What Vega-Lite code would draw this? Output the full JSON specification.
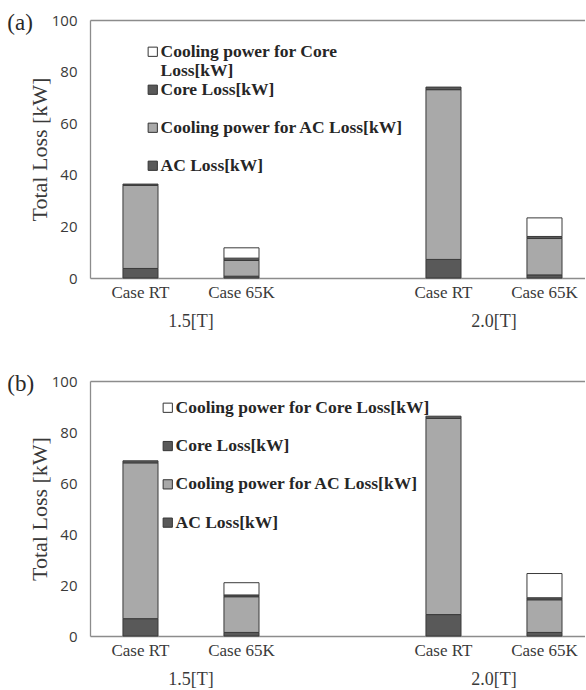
{
  "$schema": "https://vega.github.io/schema/vega-lite/v6.json",
  "background": "white",
  "padding": {"left": 7, "top": 12, "right": 0, "bottom": 0},
  "bounds": "flush",
  "spacing": 103,
  "resolve": {"scale": {"color": "independent"}, "legend": {"color": "independent"}},
  "datasets": {
    "loss": [
      {"fig": "a", "slot": "1.5 RT", "series": "AC Loss[kW]", "kW": 3.7},
      {"fig": "a", "slot": "1.5 RT", "series": "Cooling power for AC Loss[kW]", "kW": 32.2},
      {"fig": "a", "slot": "1.5 RT", "series": "Core Loss[kW]", "kW": 0.5},
      {"fig": "a", "slot": "1.5 65K", "series": "AC Loss[kW]", "kW": 0.7},
      {"fig": "a", "slot": "1.5 65K", "series": "Cooling power for AC Loss[kW]", "kW": 6.1},
      {"fig": "a", "slot": "1.5 65K", "series": "Core Loss[kW]", "kW": 0.9},
      {"fig": "a", "slot": "1.5 65K", "series": "Cooling power for Core Loss[kW]", "kW": 4.0},
      {"fig": "a", "slot": "2.0 RT", "series": "AC Loss[kW]", "kW": 7.2},
      {"fig": "a", "slot": "2.0 RT", "series": "Cooling power for AC Loss[kW]", "kW": 65.8},
      {"fig": "a", "slot": "2.0 RT", "series": "Core Loss[kW]", "kW": 1.0},
      {"fig": "a", "slot": "2.0 65K", "series": "AC Loss[kW]", "kW": 1.2},
      {"fig": "a", "slot": "2.0 65K", "series": "Cooling power for AC Loss[kW]", "kW": 14.1},
      {"fig": "a", "slot": "2.0 65K", "series": "Core Loss[kW]", "kW": 0.8},
      {"fig": "a", "slot": "2.0 65K", "series": "Cooling power for Core Loss[kW]", "kW": 7.2},
      {"fig": "b", "slot": "1.5 RT", "series": "AC Loss[kW]", "kW": 6.8},
      {"fig": "b", "slot": "1.5 RT", "series": "Cooling power for AC Loss[kW]", "kW": 61.1},
      {"fig": "b", "slot": "1.5 RT", "series": "Core Loss[kW]", "kW": 0.8},
      {"fig": "b", "slot": "1.5 65K", "series": "AC Loss[kW]", "kW": 1.4},
      {"fig": "b", "slot": "1.5 65K", "series": "Cooling power for AC Loss[kW]", "kW": 14.0},
      {"fig": "b", "slot": "1.5 65K", "series": "Core Loss[kW]", "kW": 0.7},
      {"fig": "b", "slot": "1.5 65K", "series": "Cooling power for Core Loss[kW]", "kW": 4.8},
      {"fig": "b", "slot": "2.0 RT", "series": "AC Loss[kW]", "kW": 8.4},
      {"fig": "b", "slot": "2.0 RT", "series": "Cooling power for AC Loss[kW]", "kW": 76.9},
      {"fig": "b", "slot": "2.0 RT", "series": "Core Loss[kW]", "kW": 0.9},
      {"fig": "b", "slot": "2.0 65K", "series": "AC Loss[kW]", "kW": 1.4},
      {"fig": "b", "slot": "2.0 65K", "series": "Cooling power for AC Loss[kW]", "kW": 12.8},
      {"fig": "b", "slot": "2.0 65K", "series": "Core Loss[kW]", "kW": 0.8},
      {"fig": "b", "slot": "2.0 65K", "series": "Cooling power for Core Loss[kW]", "kW": 9.5}
    ],
    "groups": [
      {"slot": "1.5 RT", "group": "1.5[T]"},
      {"slot": "2.0 RT", "group": "2.0[T]"}
    ]
  },
  "config": {
    "view": {"stroke": null},
    "font": "Liberation Serif",
    "axis": {
      "grid": false,
      "ticks": false,
      "domainColor": "#8c8c8c",
      "domainWidth": 1.3,
      "labelColor": "#3a3a3a",
      "titleColor": "#3a3a3a"
    },
    "axisY": {
      "labelFont": "Open Sans",
      "labelFontSize": 15,
      "labelPadding": 13,
      "titleFont": "Liberation Serif",
      "titleFontSize": 22,
      "titleFontWeight": "normal",
      "titlePadding": 0
    },
    "axisX": {
      "labelFont": "Liberation Serif",
      "labelFontSize": 17,
      "labelAngle": 0,
      "labelPadding": 6
    },
    "legend": {
      "orient": "none",
      "title": null,
      "padding": 0,
      "symbolType": "square",
      "symbolSize": 85,
      "symbolStrokeColor": "#333333",
      "symbolStrokeWidth": 1,
      "symbolOffset": 0,
      "labelFont": "Liberation Serif",
      "labelFontWeight": "bold",
      "labelFontSize": 17.5,
      "labelColor": "#262626",
      "labelLimit": 500,
      "labelOffset": -1
    },
    "title": {
      "font": "Liberation Serif",
      "fontSize": 23,
      "fontWeight": "normal",
      "color": "#2a2a2a",
      "anchor": "start",
      "frame": "bounds",
      "offset": 0,
      "baseline": "middle"
    }
  },
  "vconcat": [
    {
      "title": {"text": "(a)", "dx": -21, "dy": 26},
      "width": 495,
      "height": 258,
      "resolve": {"axis": {"x": "independent"}},
      "layer": [
        {
          "data": {"name": "loss"},
          "transform": [
            {"filter": "datum.fig == 'a'"},
            {"calculate": "indexof(['AC Loss[kW]', 'Cooling power for AC Loss[kW]', 'Core Loss[kW]', 'Cooling power for Core Loss[kW]'], datum.series)", "as": "stackRank"}
          ],
          "mark": {"type": "bar", "stroke": "#3a3a3a", "strokeWidth": 1},
          "encoding": {
            "x": {
              "field": "slot", "type": "nominal", "title": null,
              "scale": {"domain": ["1.5 RT", "1.5 65K", " ", "2.0 RT", "2.0 65K"], "paddingInner": 0.653, "paddingOuter": 0.277, "align": 0.589},
              "axis": {"labelExpr": "datum.value == ' ' ? '' : 'Case ' + split(datum.value, ' ')[1]"}
            },
            "y": {
              "field": "kW", "type": "quantitative", "stack": "zero",
              "scale": {"domain": [0, 100]},
              "axis": {"values": [0, 20, 40, 60, 80, 100], "title": "Total Loss [kW]", "titleFont": "Liberation Serif"}
            },
            "color": {
              "field": "series", "type": "nominal",
              "scale": {
                "domain": ["Cooling power for Core Loss[kW]", "Core Loss[kW]", "Cooling power for AC Loss[kW]", "AC Loss[kW]"],
                "range": ["#ffffff", "#595959", "#a9a9a9", "#595959"]
              },
              "legend": {
                "legendX": 54, "legendY": 23,
                "gridAlign": "all",
                "rowPadding": 0,
                "labelExpr": "datum.label == 'Cooling power for Core Loss[kW]' ? ['Cooling power for Core', 'Loss[kW]'] : datum.label"
              }
            },
            "order": {"field": "stackRank", "type": "quantitative"}
          }
        },
        {
          "data": {"name": "groups"},
          "mark": {"type": "text", "dx": 50.5, "dy": 44, "baseline": "middle", "fontSize": 18, "font": "Liberation Serif", "color": "#3a3a3a"},
          "encoding": {
            "x": {
              "field": "slot", "type": "nominal",
              "scale": {"domain": ["1.5 RT", "1.5 65K", " ", "2.0 RT", "2.0 65K"], "paddingInner": 0.653, "paddingOuter": 0.277, "align": 0.589},
              "axis": {"orient": "top", "labels": false, "title": null}
            },
            "y": {"datum": 0, "type": "quantitative"},
            "text": {"field": "group"}
          }
        }
      ]
    },
    {
      "title": {"text": "(b)", "dx": -21, "dy": 26},
      "width": 495,
      "height": 255,
      "resolve": {"axis": {"x": "independent"}},
      "layer": [
        {
          "data": {"name": "loss"},
          "transform": [
            {"filter": "datum.fig == 'b'"},
            {"calculate": "indexof(['AC Loss[kW]', 'Cooling power for AC Loss[kW]', 'Core Loss[kW]', 'Cooling power for Core Loss[kW]'], datum.series)", "as": "stackRank"}
          ],
          "mark": {"type": "bar", "stroke": "#3a3a3a", "strokeWidth": 1},
          "encoding": {
            "x": {
              "field": "slot", "type": "nominal", "title": null,
              "scale": {"domain": ["1.5 RT", "1.5 65K", " ", "2.0 RT", "2.0 65K"], "paddingInner": 0.653, "paddingOuter": 0.277, "align": 0.589},
              "axis": {"labelExpr": "datum.value == ' ' ? '' : 'Case ' + split(datum.value, ' ')[1]"}
            },
            "y": {
              "field": "kW", "type": "quantitative", "stack": "zero",
              "scale": {"domain": [0, 100]},
              "axis": {"values": [0, 20, 40, 60, 80, 100], "title": "Total Loss [kW]", "titleFont": "Liberation Serif"}
            },
            "color": {
              "field": "series", "type": "nominal",
              "scale": {
                "domain": ["Cooling power for Core Loss[kW]", "Core Loss[kW]", "Cooling power for AC Loss[kW]", "AC Loss[kW]"],
                "range": ["#ffffff", "#595959", "#a9a9a9", "#595959"]
              },
              "legend": {
                "legendX": 69, "legendY": 18,
                "rowPadding": 19.3
              }
            },
            "order": {"field": "stackRank", "type": "quantitative"}
          }
        },
        {
          "data": {"name": "groups"},
          "mark": {"type": "text", "dx": 50.5, "dy": 44, "baseline": "middle", "fontSize": 18, "font": "Liberation Serif", "color": "#3a3a3a"},
          "encoding": {
            "x": {
              "field": "slot", "type": "nominal",
              "scale": {"domain": ["1.5 RT", "1.5 65K", " ", "2.0 RT", "2.0 65K"], "paddingInner": 0.653, "paddingOuter": 0.277, "align": 0.589},
              "axis": {"orient": "top", "labels": false, "title": null}
            },
            "y": {"datum": 0, "type": "quantitative"},
            "text": {"field": "group"}
          }
        }
      ]
    }
  ]
}
